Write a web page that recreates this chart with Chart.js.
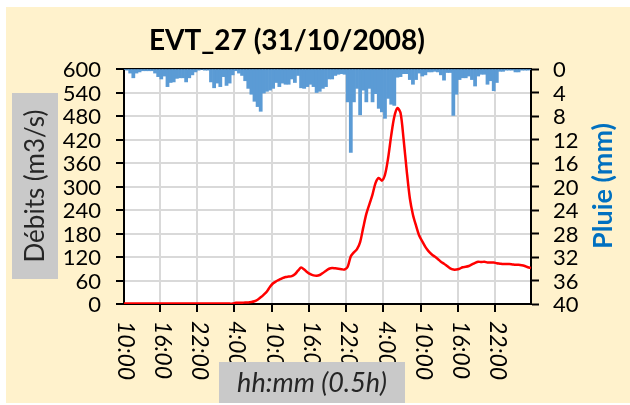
<!DOCTYPE html>
<html>
<head>
<meta charset="utf-8">
<script src="https://cdn.jsdelivr.net/npm/chart.js@4.4.1/dist/chart.umd.min.js"></script>
<style>
  html, body { margin: 0; padding: 0; background: #fff; }
  canvas { display: block; }
</style>
</head>
<body>
<canvas id="evt" width="630" height="405"></canvas>
<script>
// ------------------------------------------------------------
//  EVT_27 : débits (m3/s) et pluie (mm), pas de temps 0.5 h
// ------------------------------------------------------------

const DEBUT_HEURE = 10;      // premier pas : 10:00
const NB_PAS = 132;          // 132 demi-heures
const PAS_ETIQUETTE = 12;    // une étiquette toutes les 6 h

// Débits (m3/s) par demi-heure
const debits = [
  1, 1, 1, 1, 1, 1, 1, 1, 1, 1, 1, 1, 1, 1, 1, 1, 1, 1, 1, 1,
  1, 1, 1, 1, 1, 1, 1, 1, 1, 1, 1, 1, 1, 1, 1, 1, 3, 3, 3, 4,
  4, 5, 7, 11, 17, 24, 32, 44, 53, 58, 62, 66, 69, 70, 71, 76, 85, 93, 88, 81,
  76, 73, 72, 74, 79, 85, 90, 92, 91, 90, 89, 88, 95, 122, 132, 140, 158, 195, 230, 255,
  280, 310, 322, 315, 330, 372, 430, 478, 500, 488, 420, 340, 270, 228, 200, 175, 160, 146, 135, 127,
  121, 115, 108, 103, 97, 91, 88, 88, 90, 94, 95, 97, 101, 105, 108, 107, 108, 106, 106, 106,
  104, 103, 102, 102, 102, 101, 100, 100, 99, 97, 94, 92
];

// Pluie (mm) par demi-heure
const pluie = [
  0.1, 0.2, 0.7, 1.5, 0.7, 0.5, 0.3, 0.3, 0.3, 0.3, 0.7, 1.3, 1.7, 1.2, 3.0, 2.3, 2.2, 1.6, 1.5, 1.5,
  2.2, 1.5, 1.0, 0.5, 0.2, 0.1, 0.2, 0.2, 2.2, 3.2, 2.4, 3.0, 1.3, 2.8, 2.4, 1.0, 0.3, 0.7, 1.1, 2.0,
  3.3, 4.3, 5.5, 6.4, 7.2, 4.1, 3.8, 3.6, 3.3, 2.3, 3.0, 2.4, 2.6, 2.6, 1.7, 2.3, 1.1, 3.2, 3.3, 3.0,
  2.6, 3.0, 4.0, 3.8, 3.3, 3.0, 1.7, 1.7, 1.1, 0.9, 0.8, 0.9, 5.6, 14.2, 5.6, 3.3, 7.8, 3.6, 5.6, 3.3,
  5.6, 4.2, 6.7, 7.3, 8.4, 5.0, 6.0, 6.2, 1.4, 1.3, 0.8, 0.8, 1.8, 2.6, 1.8, 0.7, 1.2, 1.0, 0.5, 0.5,
  0.4, 0.5, 1.0, 1.9, 0.6, 0.6, 7.9, 4.3, 1.8, 1.5, 1.5, 1.2, 1.8, 2.9, 1.2, 0.9, 0.9, 2.6, 2.0, 3.7,
  2.3, 0.4, 0.4, 0.2, 0.2, 0.2, 0.5, 0.5, 0.2, 0.2, 0.2, 0.1
];

// Étiquettes hh:mm
const heures = [];
for (let i = 0; i < NB_PAS; i++) {
  const min = DEBUT_HEURE * 60 + i * 30;
  const h = Math.floor(min / 60) % 24;
  const m = min % 60;
  heures.push(h + ':' + (m < 10 ? '0' + m : m));
}

const TITRE    = 'EVT_27 (31/10/2008)';
const TITRE_Y  = 'Débits (m3/s)';
const TITRE_Y2 = 'Pluie (mm)';
const TITRE_X  = 'hh:mm (0.5h)';

const FOND   = '#FFF2CC';
const GRILLE = '#D9D9D9';
const BLEU   = '#5B9BD5';
const ROUGE  = '#FF0000';
const POLICE = 'Lato, "Open Sans", sans-serif';

// texte éventuellement tourné
function texte(ctx, str, x, y, font, color, align, angle) {
  ctx.save();
  ctx.font = font;
  ctx.fillStyle = color;
  ctx.textAlign = align || 'center';
  ctx.textBaseline = 'middle';
  ctx.translate(x, y);
  if (angle) ctx.rotate(angle);
  ctx.fillText(str, 0, 0);
  ctx.restore();
}

const habillage = {
  id: 'habillage',
  beforeDraw(chart) {
    const { ctx, chartArea: a } = chart;
    ctx.save();
    ctx.fillStyle = '#fff';
    ctx.fillRect(0, 0, chart.width, chart.height);
    ctx.fillStyle = FOND;
    ctx.fillRect(6, 7, chart.width - 6, chart.height - 9);
    ctx.fillStyle = '#fff';
    ctx.fillRect(a.left, a.top, a.right - a.left, a.bottom - a.top);
    ctx.restore();
  },
  beforeDatasetsDraw(chart) {
    // ligne du haut (axe des pluies)
    const { ctx, chartArea: a } = chart;
    ctx.save();
    ctx.strokeStyle = '#000';
    ctx.lineWidth = 2;
    ctx.beginPath();
    ctx.moveTo(a.left, a.top);
    ctx.lineTo(a.right, a.top);
    ctx.stroke();
    ctx.restore();
  },
  afterDraw(chart) {
    const { ctx } = chart;
    const sx = chart.scales.x, sy = chart.scales.y, sy2 = chart.scales.y2;

    // graduations débits
    sy.ticks.forEach(t => {
      texte(ctx, String(t.value), 101, sy.getPixelForValue(t.value) + 1, '22px ' + POLICE, '#000', 'right');
    });
    // graduations pluie
    sy2.ticks.forEach(t => {
      texte(ctx, String(t.value), 553, sy2.getPixelForValue(t.value) + 1, '22px ' + POLICE, '#000', 'left');
    });
    // heures, lues de haut en bas
    heures.forEach((h, i) => {
      if (i % PAS_ETIQUETTE !== 0) return;
      texte(ctx, h, sx.getPixelForValue(i) + 1, 321, 'italic 23px ' + POLICE, '#000', 'left', Math.PI / 2);
    });

    // titre
    texte(ctx, TITRE, 287, 41, 'bold 28px ' + POLICE, '#000');

    // titre axe débits
    ctx.fillStyle = '#C9C9C9';
    ctx.fillRect(12, 93, 46, 186);
    texte(ctx, TITRE_Y, 36, 186, '26px ' + POLICE, '#262626', 'center', -Math.PI / 2);

    // titre axe pluie
    texte(ctx, TITRE_Y2, 603, 186, 'bold 27px ' + POLICE, '#0070C0', 'center', -Math.PI / 2);

    // titre axe temps
    ctx.fillStyle = '#C9C9C9';
    ctx.fillRect(219, 362, 186, 41);
    texte(ctx, TITRE_X, 312, 383, 'italic 27px ' + POLICE, '#262626');
  }
};

new Chart(document.getElementById('evt'), {
  data: {
    labels: heures,
    datasets: [
      {
        type: 'line',
        label: TITRE_Y,
        data: debits,
        yAxisID: 'y',
        borderColor: ROUGE,
        borderWidth: 2.5,
        pointRadius: 0,
        tension: 0.3,
        order: 1
      },
      {
        type: 'bar',
        label: TITRE_Y2,
        data: pluie,
        yAxisID: 'y2',
        backgroundColor: BLEU,
        borderWidth: 0,
        barPercentage: 1,
        categoryPercentage: 1,
        order: 2
      }
    ]
  },
  options: {
    responsive: false,
    animation: false,
    layout: { padding: { top: 69, left: 0, right: 0, bottom: 0 } },
    plugins: { legend: { display: false }, tooltip: { enabled: false } },
    scales: {
      x: {
        offset: false,
        ticks: { display: false, autoSkip: false },
        grid: {
          color: c => (c.index % PAS_ETIQUETTE === 0 ? GRILLE : 'rgba(0,0,0,0)'),
          tickColor: c => (c.index % PAS_ETIQUETTE === 0 ? '#000' : 'rgba(0,0,0,0)'),
          lineWidth: 2,
          tickWidth: 2,
          tickLength: 8
        },
        border: { color: '#000', width: 2 },
        afterFit: s => { s.height = 101; }
      },
      y: {
        position: 'left',
        min: 0,
        max: 600,
        ticks: { display: false, stepSize: 60 },
        grid: { color: GRILLE, lineWidth: 2, tickColor: '#000', tickWidth: 2, tickLength: 8 },
        border: { color: '#000', width: 2 },
        afterFit: s => { s.width = 124; }
      },
      y2: {
        position: 'right',
        min: 0,
        max: 40,
        reverse: true,
        ticks: { display: false, stepSize: 4 },
        grid: { drawOnChartArea: false, tickColor: '#000', tickWidth: 2, tickLength: 8 },
        border: { color: '#000', width: 2 },
        afterFit: s => { s.width = 99; }
      }
    }
  },
  plugins: [habillage]
});
</script>
</body>
</html>
